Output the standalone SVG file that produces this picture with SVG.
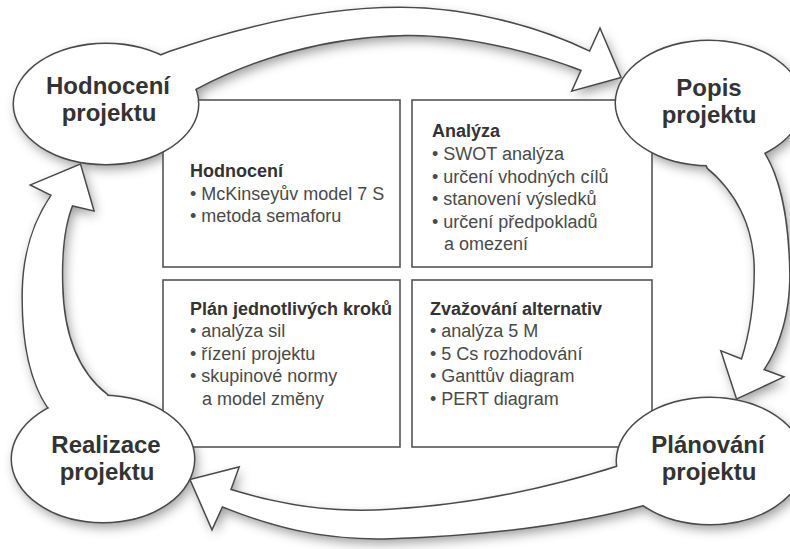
<svg xmlns="http://www.w3.org/2000/svg" xmlns:xlink="http://www.w3.org/1999/xlink" width="790" height="549" viewBox="0 0 790 549">
  <defs>
    <filter id="shadow" x="-10%" y="-10%" width="120%" height="120%">
      <feGaussianBlur in="SourceAlpha" stdDeviation="6" result="b"/>
      <feOffset in="b" dx="3" dy="5" result="o"/>
      <feFlood flood-color="#000" flood-opacity="0.4"/>
      <feComposite in2="o" operator="in"/>
    </filter>
    <style>
      .shape { fill: #fff; }
      .outline { fill: #fff; stroke: #4a4a4a; stroke-width: 3; stroke-linejoin: miter; }
      .box { fill: #fff; stroke: #555; stroke-width: 1.6; }
      .lbl { font-family: "Liberation Sans", Arial, Helvetica, sans-serif; font-weight: bold; font-size: 24px; fill: #333; text-anchor: middle; }
      .hd { font-family: "Liberation Sans", Arial, Helvetica, sans-serif; font-weight: bold; font-size: 18px; fill: #333; }
      .it { font-family: "Liberation Sans", Arial, Helvetica, sans-serif; font-size: 18px; fill: #4a4a4a; }
    </style>
  </defs>

  <rect width="790" height="549" fill="#fff"/>

  <!-- soft shadow of the ring -->
  <g id="ring-shadow" filter="url(#shadow)">
    <use xlink:href="#arrow-1"/>
    <use xlink:href="#arrow-2"/>
    <use xlink:href="#arrow-3"/>
    <use xlink:href="#arrow-4"/>
    <use xlink:href="#shape-hodnoceni"/>
    <use xlink:href="#shape-popis"/>
    <use xlink:href="#shape-realizace"/>
    <use xlink:href="#shape-planovani"/>
  </g>

  <!-- content boxes -->
  <g id="box-hodnoceni">
    <rect class="box" x="163" y="100" width="237" height="167"/>
    <text class="hd" x="190" y="177">Hodnocení</text>
    <text class="it"><tspan x="190" y="200">• McKinseyův model 7 S</tspan><tspan x="190" y="222">• metoda semaforu</tspan></text>
  </g>
  <g id="box-analyza">
    <rect class="box" x="412" y="100" width="240" height="167"/>
    <text class="hd" x="432" y="137">Analýza</text>
    <text class="it"><tspan x="432" y="160">• SWOT analýza</tspan><tspan x="432" y="183">• určení vhodných cílů</tspan><tspan x="432" y="205">• stanovení výsledků</tspan><tspan x="432" y="228">• určení předpokladů</tspan><tspan x="444" y="250">a omezení</tspan></text>
  </g>
  <g id="box-plan">
    <rect class="box" x="163" y="280" width="237" height="167"/>
    <text class="hd" x="190" y="315">Plán jednotlivých kroků</text>
    <text class="it"><tspan x="190" y="337">• analýza sil</tspan><tspan x="190" y="360">• řízení projektu</tspan><tspan x="190" y="382">• skupinové normy</tspan><tspan x="202" y="405">a model změny</tspan></text>
  </g>
  <g id="box-zvazovani">
    <rect class="box" x="412" y="280" width="240" height="167"/>
    <text class="hd" x="430" y="315">Zvažování alternativ</text>
    <text class="it"><tspan x="430" y="337">• analýza 5 M</tspan><tspan x="430" y="360">• 5 Cs rozhodování</tspan><tspan x="430" y="382">• Ganttův diagram</tspan><tspan x="430" y="405">• PERT diagram</tspan></text>
  </g>

  <!-- united outline of the ring (ellipses + arrows) -->
  <g id="ring-outline" class="outline">
    <use xlink:href="#arrow-1"/>
    <use xlink:href="#arrow-2"/>
    <use xlink:href="#arrow-3"/>
    <use xlink:href="#arrow-4"/>
    <use xlink:href="#shape-hodnoceni"/>
    <use xlink:href="#shape-popis"/>
    <use xlink:href="#shape-realizace"/>
    <use xlink:href="#shape-planovani"/>
  </g>

  <!-- connectors: big curved arrows -->
  <g id="connectors">
    <path id="arrow-1" class="shape" d="M 145 62 L 170 52 C 240 28, 320 8, 400 8 C 470 8, 540 28, 590 52 L 600 30 L 620 77 L 573 90 L 582 70 C 530 50, 460 33, 400 35 C 320 37, 250 60, 197 88 L 175 100 Z"/>
    <path id="arrow-2" class="shape" d="M 700 150 L 708 168 C 735 190, 755 225, 755 270 C 755 305, 750 335, 742 360 L 722 352 L 737 398 L 782 377 L 763 370 C 780 345, 790 310, 789 270 C 788 220, 780 180, 765 155 L 760 145 Z"/>
    <path id="arrow-3" class="shape" d="M 630 460 L 617 467 C 560 485, 480 505, 390 510 C 330 514, 280 505, 230 490 L 238 468 L 191 480 L 212 528 L 222 506 C 270 525, 320 540, 390 538 C 480 535, 570 525, 643 505 L 650 495 Z"/>
    <path id="arrow-4" class="shape" d="M 60 415 L 48 407 C 30 380, 22 340, 23 290 C 24 250, 35 220, 52 195 L 32 185 L 80 165 L 93 210 L 72 205 C 64 225, 61 255, 62 285 C 63 330, 75 370, 107 395 L 110 405 Z"/>
  </g>

  <!-- phase nodes -->
  <g id="node-hodnoceni">
    <ellipse id="shape-hodnoceni" class="shape" cx="106" cy="104" rx="92" ry="60"/>
    <text class="lbl"><tspan x="108" y="94">Hodnocení</tspan><tspan x="109" y="121">projektu</tspan></text>
  </g>
  <g id="node-popis">
    <ellipse id="shape-popis" class="shape" cx="709" cy="103" rx="93" ry="62"/>
    <text class="lbl"><tspan x="709" y="96">Popis</tspan><tspan x="709" y="123">projektu</tspan></text>
  </g>
  <g id="node-planovani">
    <ellipse id="shape-planovani" class="shape" cx="710" cy="461" rx="93" ry="63"/>
    <text class="lbl"><tspan x="708" y="453">Plánování</tspan><tspan x="709" y="480">projektu</tspan></text>
  </g>
  <g id="node-realizace">
    <ellipse id="shape-realizace" class="shape" cx="103" cy="459" rx="91" ry="63"/>
    <text class="lbl"><tspan x="106" y="453">Realizace</tspan><tspan x="107" y="480">projektu</tspan></text>
  </g>
</svg>
